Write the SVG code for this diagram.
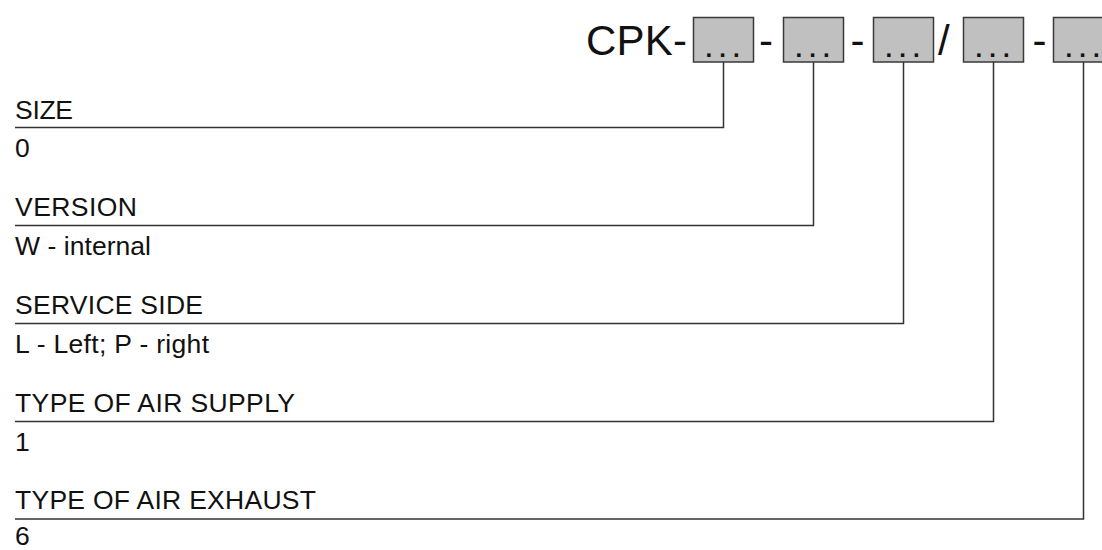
<svg xmlns="http://www.w3.org/2000/svg" width="1102" height="550" viewBox="0 0 1102 550">
<style>
.t{font-family:"Liberation Sans",Arial,sans-serif;font-size:26.5px;fill:#111}
.h{font-family:"Liberation Sans",Arial,sans-serif;font-size:42px;fill:#111}
.box{fill:#c0c0c0;stroke:#3a3a3a;stroke-width:1.5}
.dots{font-family:"Liberation Sans",Arial,sans-serif;font-size:24px;font-weight:bold;fill:#111}
.c{fill:none;stroke:#333;stroke-width:1.5}
</style>
<rect width="1102" height="550" fill="#fff"/>
<g id="code">
<text class="h" x="586" y="55" textLength="101" lengthAdjust="spacing">CPK-</text>
<text class="h" x="759" y="55">-</text>
<text class="h" x="850.5" y="55">-</text>
<text class="h" x="938" y="55">/</text>
<text class="h" x="1032.5" y="55">-</text>
</g>
<g id="box1"><rect class="box" x="693.5" y="17.5" width="60" height="44.5"/><text class="dots" x="705.4" y="57" textLength="34.2" lengthAdjust="spacing">...</text></g>
<g id="box2"><rect class="box" x="783.5" y="17.5" width="60" height="44.5"/><text class="dots" x="795.4" y="57" textLength="34.2" lengthAdjust="spacing">...</text></g>
<g id="box3"><rect class="box" x="873.5" y="17.5" width="60" height="44.5"/><text class="dots" x="885.4" y="57" textLength="34.2" lengthAdjust="spacing">...</text></g>
<g id="box4"><rect class="box" x="963.5" y="17.5" width="60" height="44.5"/><text class="dots" x="975.4" y="57" textLength="34.2" lengthAdjust="spacing">...</text></g>
<g id="box5"><rect class="box" x="1053.5" y="17.5" width="60" height="44.5"/><text class="dots" x="1065.4" y="57" textLength="34.2" lengthAdjust="spacing">...</text></g>
<g id="connectors">
<path class="c" d="M723.5,62 V127.5 H15"/>
<path class="c" d="M813.5,62 V225.5 H15"/>
<path class="c" d="M903.5,62 V323.5 H15"/>
<path class="c" d="M993.5,62 V421.5 H15"/>
<path class="c" d="M1083.5,62 V519 H15"/>
</g>
<g id="size">
<text class="t" x="15" y="118.5" textLength="58" lengthAdjust="spacing">SIZE</text>
<text class="t" x="15" y="157">0</text>
</g>
<g id="version">
<text class="t" x="15" y="216" textLength="122" lengthAdjust="spacing">VERSION</text>
<text class="t" x="15" y="255" textLength="136" lengthAdjust="spacing">W - internal</text>
</g>
<g id="service">
<text class="t" x="15" y="314" textLength="188" lengthAdjust="spacing">SERVICE SIDE</text>
<text class="t" x="15" y="353" textLength="194" lengthAdjust="spacing">L - Left; P - right</text>
</g>
<g id="supply">
<text class="t" x="15" y="412" textLength="280" lengthAdjust="spacing">TYPE OF AIR SUPPLY</text>
<text class="t" x="15" y="451">1</text>
</g>
<g id="exhaust">
<text class="t" x="15" y="509" textLength="301" lengthAdjust="spacing">TYPE OF AIR EXHAUST</text>
<text class="t" x="15" y="545">6</text>
</g>
</svg>
